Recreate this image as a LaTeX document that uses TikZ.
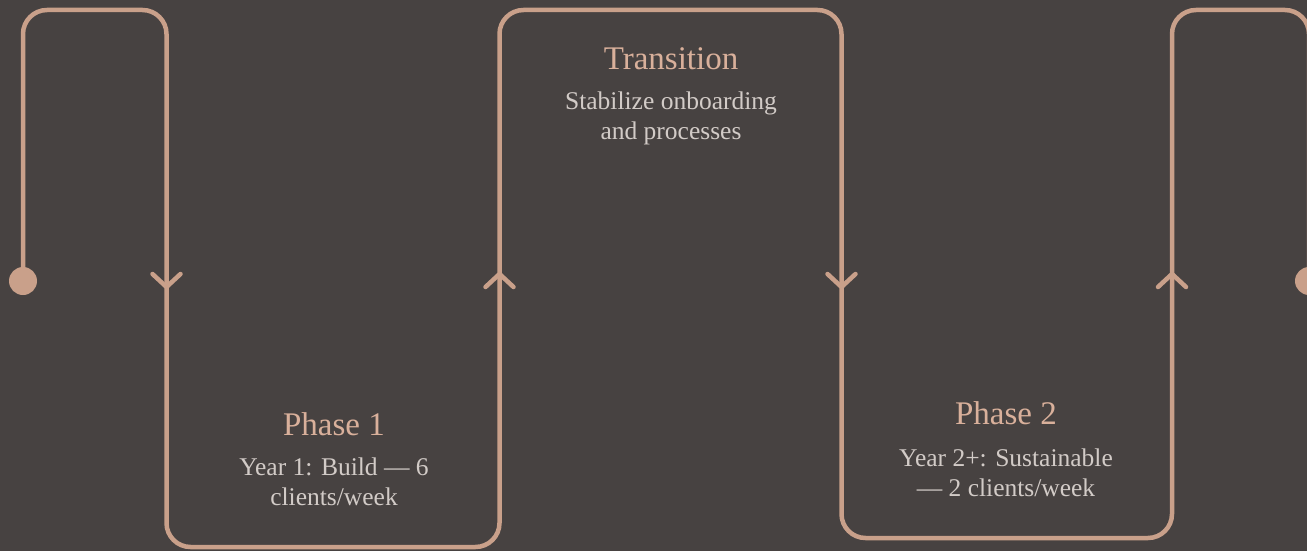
\documentclass[tikz,border=0pt]{standalone}
\usepackage{fontspec}
\setmainfont{Liberation Serif}
\usetikzlibrary{calc}
\definecolor{bg}{HTML}{474241}
\definecolor{flowc}{HTML}{C9A08A}
\definecolor{titlec}{HTML}{D9B09B}
\definecolor{bodyc}{HTML}{D2CBC7}
\tikzset{
  flow/.style={draw=flowc, line width=4.5pt, line cap=round, line join=round},
  titletext/.style={text=titlec, font=\fontsize{33}{36}\selectfont, inner sep=0pt},
  bodytext/.style={text=bodyc, font=\fontsize{25.5}{30.5}\selectfont, align=center, inner sep=0pt},
}
\begin{document}
\begin{tikzpicture}[x=1pt,y=-1pt]
\useasboundingbox[fill=bg] (0,0) rectangle (1307,551);
% path corners
\coordinate (c1) at (23,10);
\coordinate (c2) at (166.5,10);
\coordinate (c3) at (166.5,547);
\coordinate (c4) at (499.5,547);
\coordinate (c5) at (499.5,10);
\coordinate (c6) at (841.5,10);
\coordinate (c7) at (841.5,538);
\coordinate (c8) at (1172,538);
\coordinate (c9) at (1172,10);
\coordinate (c10) at (1309,10);
\coordinate (endp) at (1309,281);
\node[circle, fill=flowc, minimum size=28pt, inner sep=0pt] (start) at (23,281) {};
\node[circle, fill=flowc, minimum size=28pt, inner sep=0pt] (finish) at (endp) {};
\draw[flow, rounded corners=24pt] (start.center) -- (c1) -- (c2) -- (c3) -- (c4) -- (c5) -- (c6) -- (c7) -- (c8) -- (c9) -- (c10) -- (finish.center);
% arrow chevrons
\coordinate (a1) at (166.5,287);
\coordinate (a2) at (499.5,274);
\coordinate (a3) at (841.5,287);
\coordinate (a4) at (1172,274);
\draw[flow] ($(a1)+(-14,-13)$) -- (a1) -- ($(a1)+(14,-13)$);
\draw[flow] ($(a2)+(-14,13)$) -- (a2) -- ($(a2)+(14,13)$);
\draw[flow] ($(a3)+(-14,-13)$) -- (a3) -- ($(a3)+(14,-13)$);
\draw[flow] ($(a4)+(-14,13)$) -- (a4) -- ($(a4)+(14,13)$);
% texts
\node[titletext] (t0) at (671,59) {Transition};
\node[bodytext] (b0) at (671,118.5) {Stabilize onboarding\\and processes};
\node[titletext] (t1) at (334,424) {Phase 1};
\node[bodytext] (b1) at (334,482) {Year 1: Build — 6\\clients/week};
\node[titletext] (t2) at (1006,413) {Phase 2};
\node[bodytext] (b2) at (1006,473) {Year 2+: Sustainable\\— 2 clients/week};
\end{tikzpicture}
\end{document}
